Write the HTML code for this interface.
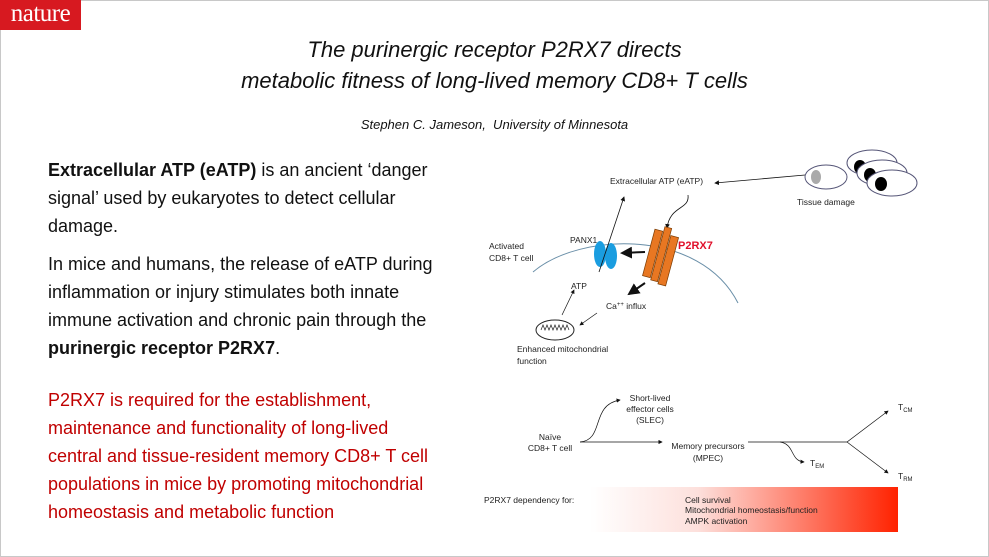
<!DOCTYPE html><html><head><style>
body{margin:0;width:989px;height:557px;background:#fff;position:relative;overflow:hidden;font-family:"Liberation Sans",Arial,sans-serif}
.b{position:absolute;left:0;top:0;width:987px;height:555px;border:1px solid #c8c8c8}
.logo{position:absolute;left:0;top:0;width:81px;height:30px;background:#d71920;color:#fff;font-family:"Liberation Serif",serif;font-size:25px;line-height:28px;text-align:center;letter-spacing:-0.5px}
.t{position:absolute;left:0;width:989px;text-align:center;font-style:italic;color:#111}
.p{position:absolute;left:48px;font-size:18px;line-height:28px;color:#111;white-space:nowrap}
</style></head><body><div class="b"></div>
<div class="logo">nature</div>
<div class="t" style="top:34px;font-size:22px;line-height:31px">The purinergic receptor P2RX7 directs<br>metabolic fitness of long-lived memory CD8+ T cells</div>
<div class="t" style="top:117px;font-size:13px">Stephen C. Jameson,&nbsp; University of Minnesota</div>
<div class="p" style="top:156px"><b>Extracellular ATP (eATP)</b> is an ancient ‘danger<br>signal’ used by eukaryotes to detect cellular<br>damage.</div>
<div class="p" style="top:250px">In mice and humans, the release of eATP during<br>inflammation or injury stimulates both innate<br>immune activation and chronic pain through the<br><b>purinergic receptor P2RX7</b>.</div>
<div class="p" style="top:386px;color:#c00000">P2RX7 is required for the establishment,<br>maintenance and functionality of long-lived<br>central and tissue-resident memory CD8+ T cell<br>populations in mice by promoting mitochondrial<br>homeostasis and metabolic function</div>
<svg width="989" height="557" style="position:absolute;left:0;top:0" font-family="Liberation Sans,Arial,sans-serif" font-size="8.5" fill="#222">
<defs><marker id="a" markerWidth="6" markerHeight="6" refX="5" refY="3" orient="auto"><path d="M0,0L6,3L0,6z" fill="#111"/></marker>
<linearGradient id="g"><stop offset="0" stop-color="#fff"/><stop offset="0.35" stop-color="#fde0dc"/><stop offset="1" stop-color="#ff2200"/></linearGradient></defs>
<text x="610" y="184">Extracellular ATP (eATP)</text>
<line x1="805" y1="175" x2="715" y2="183" stroke="#111" stroke-width="0.8" marker-end="url(#a)"/>
<ellipse cx="826" cy="177" rx="21" ry="12" fill="#fff" stroke="#557"/>
<ellipse cx="816" cy="177" rx="5" ry="7" fill="#aaa"/>
<ellipse cx="872" cy="163" rx="25" ry="13" fill="#fff" stroke="#557"/>
<ellipse cx="860" cy="167" rx="6" ry="7" fill="#000"/>
<ellipse cx="882" cy="173" rx="25" ry="13" fill="#fff" stroke="#557"/>
<ellipse cx="870" cy="175" rx="6" ry="7" fill="#000"/>
<ellipse cx="892" cy="183" rx="25" ry="13" fill="#fff" stroke="#557"/>
<ellipse cx="881" cy="184" rx="6" ry="7" fill="#000"/>
<text x="797" y="205">Tissue damage</text>
<path d="M533,272 C580,232 700,228 738,303" fill="none" stroke="#6a8fa8" stroke-width="1"/>
<text x="489" y="249">Activated</text><text x="489" y="261">CD8+ T cell</text>
<text x="570" y="243">PANX1</text>
<ellipse cx="600" cy="254" rx="6" ry="13" fill="#1a9de0"/>
<ellipse cx="611" cy="256" rx="6" ry="13" fill="#1a9de0"/>
<line x1="599" y1="272" x2="624" y2="197" stroke="#111" stroke-width="0.8" marker-end="url(#a)"/>
<path d="M688,195 C690,210 670,205 667,228" fill="none" stroke="#111" stroke-width="0.8" marker-end="url(#a)"/>
<g transform="rotate(15 662 257)" fill="#e87722" stroke="#7a3a00" stroke-width="0.7">
<rect x="648" y="232" width="8" height="48"/><rect x="657" y="227" width="7" height="55"/><rect x="665" y="234" width="8" height="50"/></g>
<text x="678" y="249" fill="#e0102a" font-weight="bold" font-size="11">P2RX7</text>
<line x1="645" y1="252" x2="622" y2="253" stroke="#111" stroke-width="2" marker-end="url(#a)"/>
<line x1="645" y1="283" x2="629" y2="294" stroke="#111" stroke-width="2" marker-end="url(#a)"/>
<text x="606" y="309">Ca<tspan font-size="6" dy="-3">++</tspan><tspan dy="3"> influx</tspan></text>
<line x1="597" y1="313" x2="580" y2="325" stroke="#111" stroke-width="0.7" marker-end="url(#a)"/>
<line x1="562" y1="315" x2="574" y2="290" stroke="#111" stroke-width="0.7" marker-end="url(#a)"/>
<text x="571" y="289">ATP</text>
<ellipse cx="555" cy="330" rx="19" ry="10" fill="#fff" stroke="#222"/>
<path d="M541,330 l2,-5 l2,5 l2,-5 l2,5 l2,-5 l2,5 l2,-5 l2,5 l2,-5 l2,5 l2,-5 l2,5 l2,-5 l2,5" fill="none" stroke="#222" stroke-width="0.7"/>
<text x="517" y="352">Enhanced mitochondrial</text><text x="517" y="364">function</text>
<text x="550" y="440" text-anchor="middle">Naïve</text><text x="550" y="451" text-anchor="middle">CD8+ T cell</text>
<line x1="580" y1="442" x2="662" y2="442" stroke="#111" stroke-width="0.7" marker-end="url(#a)"/>
<path d="M580,442 C605,440 590,405 620,400" fill="none" stroke="#111" stroke-width="0.7" marker-end="url(#a)"/>
<text x="650" y="401" text-anchor="middle">Short-lived</text><text x="650" y="412" text-anchor="middle">effector cells</text><text x="650" y="423" text-anchor="middle">(SLEC)</text>
<text x="708" y="449" text-anchor="middle">Memory precursors</text><text x="708" y="461" text-anchor="middle">(MPEC)</text>
<polyline points="748,442 847,442 888,411" fill="none" stroke="#111" stroke-width="0.7" marker-end="url(#a)"/>
<line x1="847" y1="442" x2="888" y2="473" stroke="#111" stroke-width="0.7" marker-end="url(#a)"/>
<path d="M780,442 C795,444 790,461 804,462" fill="none" stroke="#111" stroke-width="0.7" marker-end="url(#a)"/>
<text x="898" y="410">T<tspan font-size="6" dy="2">CM</tspan></text>
<text x="810" y="466">T<tspan font-size="6" dy="2">EM</tspan></text>
<text x="898" y="479">T<tspan font-size="6" dy="2">RM</tspan></text>
<rect x="590" y="487" width="308" height="45" fill="url(#g)"/>
<text x="484" y="503">P2RX7 dependency for:</text>
<text x="685" y="503">Cell survival</text><text x="685" y="513">Mitochondrial homeostasis/function</text><text x="685" y="524">AMPK activation</text>
</svg></body></html>
